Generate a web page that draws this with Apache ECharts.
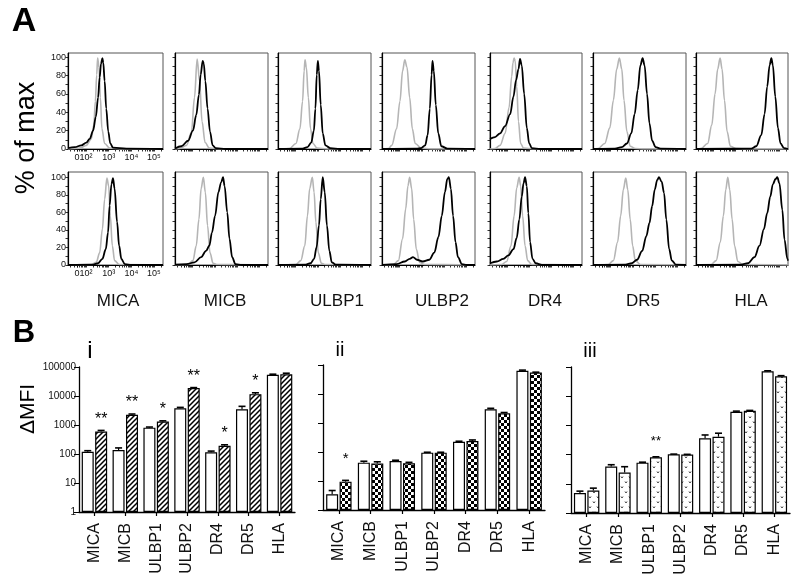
<!DOCTYPE html>
<html><head><meta charset="utf-8">
<script src="https://cdn.jsdelivr.net/npm/echarts@6/dist/echarts.min.js"></script>
<style>html,body{margin:0;padding:0;background:#fff}#c{width:800px;height:586px}</style>
</head><body><div id="c"></div>
<script>
// ---------------- DATA ----------------
const markers = ['MICA','MICB','ULBP1','ULBP2','DR4','DR5','HLA'];
const histTickValues = [1.6, 2, 3, 4, 5];          // log10 fluorescence
const histTickLabels = ['0','10²','10³','10⁴','10⁵'];
const histYTicks = [0,20,40,60,80,100];

// isotype (grey) and stained (black) histograms, x = log10 intensity, y = % of max
const isoRow1 = [
 [[1.2,0],[1.72,1],[2.01,4],[2.23,11],[2.34,26],[2.41,52],[2.47,81],[2.51,99],[2.57,89],[2.63,56],[2.70,22],[2.82,6],[3.04,1],[3.5,0],[5.4,0]],
 [[1.2,0],[1.42,0.5],[1.72,4],[1.94,18],[2.08,56],[2.20,98],[2.31,74],[2.42,30],[2.56,7],[2.75,1],[3.2,0],[5.4,0]],
 [[1.2,0],[1.72,0.5],[2.01,6],[2.19,22],[2.31,52],[2.38,85],[2.42,97],[2.48,89],[2.57,56],[2.67,22],[2.78,6],[2.97,1],[3.4,0],[5.4,0]],
 [[1.2,0],[1.49,0.5],[1.64,4],[1.86,22],[2.01,52],[2.13,85],[2.23,97],[2.33,89],[2.45,56],[2.57,22],[2.70,6],[2.97,1],[3.4,0],[5.4,0]],
 [[1.2,0],[1.43,0.5],[1.66,4],[1.89,17],[2.07,45],[2.19,79],[2.25,94],[2.30,99],[2.35,96],[2.42,68],[2.50,30],[2.60,6],[2.73,1],[3.2,0],[5.4,0]],
 [[1.2,0],[1.43,0.5],[1.73,6],[1.96,23],[2.12,53],[2.27,87],[2.39,99],[2.50,87],[2.60,53],[2.73,19],[2.88,3],[3.11,0.5],[3.5,0],[5.4,0]],
 [[1.2,0],[1.43,0.5],[1.73,6],[1.92,26],[2.07,60],[2.19,87],[2.30,99],[2.39,87],[2.50,53],[2.62,19],[2.77,3],[3.03,0.5],[3.5,0],[5.4,0]]
];
const stainRow1 = [
 [[1.2,1],[1.5,2],[1.79,4],[2.01,7],[2.16,11],[2.31,20],[2.43,35],[2.53,56],[2.60,78],[2.66,93],[2.72,99],[2.76,94],[2.82,74],[2.89,44],[2.98,19],[3.07,6],[3.19,1.5],[3.78,0.5],[5.4,0]],
 [[1.2,0.5],[1.49,3],[1.79,9],[2.01,20],[2.16,37],[2.28,59],[2.36,81],[2.45,96],[2.50,93],[2.57,74],[2.67,44],[2.78,19],[2.90,4],[3.04,1],[3.5,0],[5.4,0]],
 [[1.2,0],[2.31,0.5],[2.53,2],[2.70,7],[2.82,20],[2.89,44],[2.95,81],[3.0,96],[3.05,85],[3.13,48],[3.22,17],[3.34,4],[3.56,1],[4.0,0],[5.4,0]],
 [[1.2,0],[2.75,0.5],[2.97,1],[3.15,4],[3.26,15],[3.36,44],[3.44,81],[3.48,96],[3.54,85],[3.63,48],[3.74,17],[3.88,3],[4.15,0.5],[5.4,0]],
 [[1.2,11],[1.43,13],[1.66,17],[1.89,25],[2.12,38],[2.27,57],[2.39,75],[2.50,87],[2.57,98],[2.65,91],[2.76,60],[2.88,23],[2.99,6],[3.11,1],[3.5,0],[5.4,0]],
 [[1.2,0],[2.19,0.5],[2.50,2],[2.73,6],[2.93,17],[3.08,38],[3.22,64],[3.34,91],[3.44,99],[3.53,91],[3.64,60],[3.75,28],[3.87,9],[4.03,2],[4.25,0.5],[5.4,0]],
 [[1.2,0],[3.72,0.5],[3.95,3],[4.18,15],[4.33,38],[4.45,68],[4.56,91],[4.64,99],[4.71,91],[4.82,57],[4.94,23],[5.06,6],[5.22,1],[5.4,0]]
];
const isoRow2 = [
 [[1.2,0],[2.23,0.5],[2.45,3],[2.60,14],[2.72,41],[2.82,75],[2.92,99],[3.0,90],[3.07,56],[3.16,22],[3.26,5],[3.46,0.5],[5.4,0]],
 [[1.2,0],[1.79,0.5],[2.01,5],[2.16,22],[2.28,52],[2.38,87],[2.48,100],[2.57,83],[2.67,45],[2.78,14],[2.92,2],[3.12,0.5],[5.4,0]],
 [[1.2,0],[2.01,0.5],[2.23,5],[2.41,22],[2.53,56],[2.63,87],[2.75,100],[2.83,83],[2.91,49],[3.02,14],[3.16,2],[3.34,0.5],[5.4,0]],
 [[1.2,0],[1.72,0.5],[1.94,5],[2.13,30],[2.27,64],[2.37,90],[2.45,100],[2.54,87],[2.63,52],[2.75,18],[2.90,3],[3.12,0.5],[5.4,0]],
 [[1.2,0],[1.73,0.5],[1.96,4],[2.16,22],[2.30,56],[2.42,88],[2.53,100],[2.60,90],[2.69,56],[2.80,22],[2.92,5],[3.11,0.5],[5.4,0]],
 [[1.2,0],[1.89,0.5],[2.12,5],[2.31,26],[2.45,56],[2.57,86],[2.68,99],[2.77,86],[2.88,52],[2.99,22],[3.11,5],[3.34,0.5],[5.4,0]],
 [[1.2,0],[1.89,0.5],[2.12,5],[2.31,26],[2.45,56],[2.56,86],[2.65,100],[2.74,86],[2.85,52],[2.96,22],[3.11,4],[3.34,0.5],[5.4,0]]
];
const stainRow2 = [
 [[1.2,0],[2.31,0.5],[2.53,2],[2.72,7],[2.87,18],[2.97,37],[3.04,68],[3.12,92],[3.19,99],[3.26,87],[3.37,49],[3.46,22],[3.56,7],[3.71,1],[4.0,0],[5.4,0]],
 [[1.2,0.5],[1.72,1],[2.08,3],[2.38,9],[2.60,16],[2.75,22],[2.87,37],[3.01,56],[3.16,83],[3.28,94],[3.37,100],[3.44,90],[3.56,60],[3.66,30],[3.78,9],[3.93,1],[4.2,0],[5.4,0]],
 [[1.2,0],[2.45,0.5],[2.67,2],[2.83,7],[2.94,20],[3.05,45],[3.13,75],[3.22,100],[3.31,83],[3.41,45],[3.52,16],[3.63,3],[3.81,0.5],[5.4,0]],
 [[1.2,0],[1.86,1],[2.23,4],[2.45,7],[2.60,9],[2.78,6],[3.04,4],[3.34,6],[3.56,14],[3.75,32],[3.90,56],[4.04,83],[4.15,98],[4.22,100],[4.31,87],[4.41,56],[4.52,26],[4.63,9],[4.81,1],[5.03,0],[5.4,0]],
 [[1.2,2],[1.51,4],[1.81,7],[2.04,11],[2.27,18],[2.42,31],[2.54,52],[2.65,78],[2.73,93],[2.80,100],[2.88,90],[2.95,59],[3.03,26],[3.14,7],[3.29,2],[3.57,0],[5.4,0]],
 [[1.2,0],[2.66,0.5],[2.96,2],[3.19,6],[3.42,16],[3.61,33],[3.75,48],[3.87,67],[3.99,86],[4.10,97],[4.18,100],[4.30,95],[4.41,82],[4.51,52],[4.64,18],[4.76,5],[4.94,0.5],[5.4,0]],
 [[1.2,0],[3.26,0.5],[3.57,2],[3.87,9],[4.10,22],[4.30,41],[4.45,59],[4.59,78],[4.71,92],[4.83,98],[4.91,100],[5.01,93],[5.14,63],[5.24,29],[5.37,7],[5.4,5]]
];

// Panel B: delta MFI (control = open bars, treated = patterned bars)
const panelTitles = ['i','ii','iii'];
const ctrlI  = [120, 137, 810, 3800, 114, 3500, 54000];
const ctrlIErr = [10, 25, 40, 250, 12, 900, 2500];
const trtI   = [600, 2240, 1310, 18700, 193, 11600, 56000];
const trtIErr = [50, 150, 80, 800, 15, 1300, 5000];
const starsI = ['**','**','*','**','*','*',''];

const ctrlII = [3.5, 43, 49, 95, 227, 2960, 63600];
const ctrlIIErr = [1.2, 5, 3, 3, 8, 250, 3000];
const trtII  = [9.5, 40, 41, 95, 240, 2150, 54600];
const trtIIErr = [1, 6, 3, 3, 20, 150, 2000];
const starsII = ['*','','','','','',''];

const ctrlIII = [4.8, 39, 53, 102, 360, 2930, 71000];
const ctrlIIIErr = [0.8, 6, 2, 2, 110, 150, 3000];
const trtIII  = [5.9, 24.5, 81, 100, 410, 3160, 48000];
const trtIIIErr = [1.2, 14, 3, 2, 130, 100, 2500];
const starsIII = ['','','**','','','',''];

// ---------------- STYLE / LAYOUT ----------------
const FONT = '"Liberation Sans", Arial, Helvetica, sans-serif';
const histLeft = [68,175,278,382,490,593,696];
const histWidth = [95,93,93,93,92,93,92];
const rowTop = [53,172], rowHeight = [96,93], rowYMax = [104.5,106];
const labelX = [118,225,337,442,545,643,751];

function mkCanvas(w,h,draw){const c=document.createElement('canvas');c.width=w;c.height=h;const g=c.getContext('2d');g.fillStyle='#fff';g.fillRect(0,0,w,h);draw(g);return c;}
const hatch = mkCanvas(5,5,g=>{g.strokeStyle='#000';g.lineWidth=1.5;g.beginPath();
  g.moveTo(-1,6);g.lineTo(6,-1);g.moveTo(-3.5,3.5);g.lineTo(3.5,-3.5);g.moveTo(1.5,8.5);g.lineTo(8.5,1.5);g.stroke();});
const checker = mkCanvas(6,6,g=>{g.fillStyle='#000';g.fillRect(0,0,3,3);g.fillRect(3,3,3,3);});
const vdots = mkCanvas(8,10,g=>{g.strokeStyle='#444';g.lineWidth=1;g.beginPath();
  g.moveTo(1,1.5);g.lineTo(2,3);g.lineTo(3,1.5);g.moveTo(5,6.5);g.lineTo(6,8);g.lineTo(7,6.5);g.stroke();});

const xTicks = [];
for (let d=1; d<=5; d++) for (let k=1; k<=9; k++){ const v=d+Math.log10(k); if (v>=1.25 && v<=5.38) xTicks.push(v); }
xTicks.push(1.6);
const yMinorTicks = [0,10,20,30,40,50,60,70,80,90,100];

const grids=[], xAxes=[], yAxes=[], series=[];
const histData = [[isoRow1, stainRow1],[isoRow2, stainRow2]];
for (let r=0;r<2;r++){
  for (let c=0;c<7;c++){
    const gi = grids.length;
    grids.push({left:histLeft[c], top:rowTop[r], width:histWidth[c], height:rowHeight[r],
      show:true, borderColor:'#555', borderWidth:1, backgroundColor:'rgba(0,0,0,0)', outerBoundsMode:'none', containLabel:false});
    xAxes.push({type:'value', gridIndex:gi, min:1.2, max:5.4,
      axisLine:{show:true, onZero:false, lineStyle:{color:'#000', width:1.2}},
      splitLine:{show:false},
      axisTick:{show:true, customValues:xTicks, length:2.5, lineStyle:{color:'#000', width:0.8}},
      axisLabel:{show:c===0, customValues:histTickValues, fontSize:9, color:'#111', margin:4, fontFamily:FONT,
        formatter:v=>{const i=histTickValues.findIndex(t=>Math.abs(t-v)<1e-6);return i>=0?histTickLabels[i]:'';}}
    });
    yAxes.push({type:'value', gridIndex:gi, min:0, max:rowYMax[r],
      axisLine:{show:true, onZero:false, lineStyle:{color:'#000', width:1.2}},
      splitLine:{show:false},
      axisTick:{show:true, customValues:yMinorTicks, length:2.5, lineStyle:{color:'#000', width:0.8}},
      axisLabel:{show:c===0, customValues:histYTicks, fontSize:9, color:'#111', margin:2, fontFamily:FONT}
    });
    series.push({type:'line', xAxisIndex:gi, yAxisIndex:gi, data:histData[r][0][c], showSymbol:false, symbol:'none',
      smooth:0.35, smoothMonotone:'x', lineStyle:{color:'#b5b5b5', width:1.6}, silent:true, z:2});
    series.push({type:'line', xAxisIndex:gi, yAxisIndex:gi, data:histData[r][1][c], showSymbol:false, symbol:'none',
      smooth:0.35, smoothMonotone:'x', lineStyle:{color:'#000', width:1.8}, silent:true, z:3});
  }
}

const barPanels = [
  {left:79, top:367, width:216, height:145, ctrl:ctrlI, ce:ctrlIErr, trt:trtI, te:trtIErr, stars:starsI, fill:hatch, labels:true, starGap:3, starFont:16},
  {left:323, top:365, width:222, height:145, ctrl:ctrlII, ce:ctrlIIErr, trt:trtII, te:trtIIErr, stars:starsII, fill:checker, labels:false, starGap:14, starFont:15},
  {left:571, top:367, width:219, height:146, ctrl:ctrlIII, ce:ctrlIIIErr, trt:trtIII, te:trtIIIErr, stars:starsIII, fill:vdots, labels:false, starGap:9, starFont:13}
];
const BW = 12, OFF = 6.7;
function errRender(sign, stars, gap, font){
  return function(params, api){
    const i=api.value(0), v=api.value(1), e=api.value(2);
    const b=api.coord([i,v]), t=api.coord([i,v+e]);
    const x=b[0]+sign*OFF;
    const ch=[
      {type:'line', shape:{x1:x,y1:b[1],x2:x,y2:t[1]}, style:{stroke:'#000',lineWidth:1.2}},
      {type:'line', shape:{x1:x-3.5,y1:t[1],x2:x+3.5,y2:t[1]}, style:{stroke:'#000',lineWidth:1.6}}
    ];
    if (stars && stars[params.dataIndex]) ch.push({type:'text', x:x, y:t[1]-gap,
      style:{text:stars[params.dataIndex], align:'center', verticalAlign:'bottom', font:font+'px '+FONT, fill:'#000'}});
    return {type:'group', children:ch};
  };
}
barPanels.forEach((p,k)=>{
  const gi = grids.length;
  grids.push({left:p.left, top:p.top, width:p.width, height:p.height, outerBoundsMode:'none', containLabel:false});
  xAxes.push({type:'category', gridIndex:gi, data:markers,
    axisLine:{show:true, lineStyle:{color:'#000', width:1.3}},
    axisTick:{show:true, alignWithLabel:true, length:4, lineStyle:{color:'#000', width:1.2}},
    axisLabel:{rotate:90, interval:0, fontSize:16, color:'#111', margin:11, fontFamily:FONT}});
  yAxes.push({type:'log', logBase:10, gridIndex:gi, min:1, max:100000, splitNumber:5,
    axisLine:{show:true, lineStyle:{color:'#000', width:1.3}}, splitLine:{show:false},
    axisTick:{show:true, length:5, lineStyle:{color:'#000', width:1}},
    axisLabel:{show:p.labels, fontSize:10, color:'#111', margin:3, fontFamily:FONT, formatter:v=>String(Math.round(v))}});
  series.push({type:'bar', xAxisIndex:gi, yAxisIndex:gi, data:p.ctrl, barWidth:BW, barGap:'12%',
    itemStyle:{color:'#fff', borderColor:'#000', borderWidth:1.2}, silent:true});
  series.push({type:'bar', xAxisIndex:gi, yAxisIndex:gi, data:p.trt, barWidth:BW, barGap:'12%',
    itemStyle:{color:{image:p.fill, repeat:'repeat'}, borderColor:'#000', borderWidth:1.2}, silent:true});
  series.push({type:'custom', xAxisIndex:gi, yAxisIndex:gi, clip:false, silent:true, z:5,
    data:p.ctrl.map((v,i)=>[i,v,p.ce[i]]), encode:{x:0,y:1}, renderItem:errRender(-1,null,0,0)});
  series.push({type:'custom', xAxisIndex:gi, yAxisIndex:gi, clip:false, silent:true, z:5,
    data:p.trt.map((v,i)=>[i,v,p.te[i]]), encode:{x:0,y:1}, renderItem:errRender(1,p.stars,p.starGap,p.starFont)});
});

const graphics = [
  {type:'text', x:24, y:22, style:{text:'A', font:'bold 34px '+FONT, fill:'#000', align:'center', verticalAlign:'middle'}},
  {type:'text', x:24, y:333, style:{text:'B', font:'bold 31px '+FONT, fill:'#000', align:'center', verticalAlign:'middle'}},
  {type:'text', x:27, y:138, rotation:Math.PI/2, style:{text:'% of max', font:'27px '+FONT, fill:'#000', align:'center', verticalAlign:'middle'}},
  {type:'text', x:28, y:409, rotation:Math.PI/2, style:{text:'ΔMFI', font:'21px '+FONT, fill:'#000', align:'center', verticalAlign:'middle'}},
  {type:'text', x:90, y:351, style:{text:panelTitles[0], font:'24px '+FONT, fill:'#000', align:'center', verticalAlign:'middle'}},
  {type:'text', x:340, y:350, style:{text:panelTitles[1], font:'20px '+FONT, fill:'#000', align:'center', verticalAlign:'middle'}},
  {type:'text', x:590, y:351, style:{text:panelTitles[2], font:'20px '+FONT, fill:'#000', align:'center', verticalAlign:'middle'}}
];
markers.forEach((m,i)=>graphics.push({type:'text', x:labelX[i], y:301,
  style:{text:m, font:'17px '+FONT, fill:'#111', align:'center', verticalAlign:'middle'}}));

const chart = echarts.init(document.getElementById('c'), null, {renderer:'canvas', width:800, height:586});
chart.setOption({
  animation:false, backgroundColor:'#fff',
  textStyle:{fontFamily:FONT},
  grid:grids, xAxis:xAxes, yAxis:yAxes, series:series, graphic:graphics
});
</script></body></html>
